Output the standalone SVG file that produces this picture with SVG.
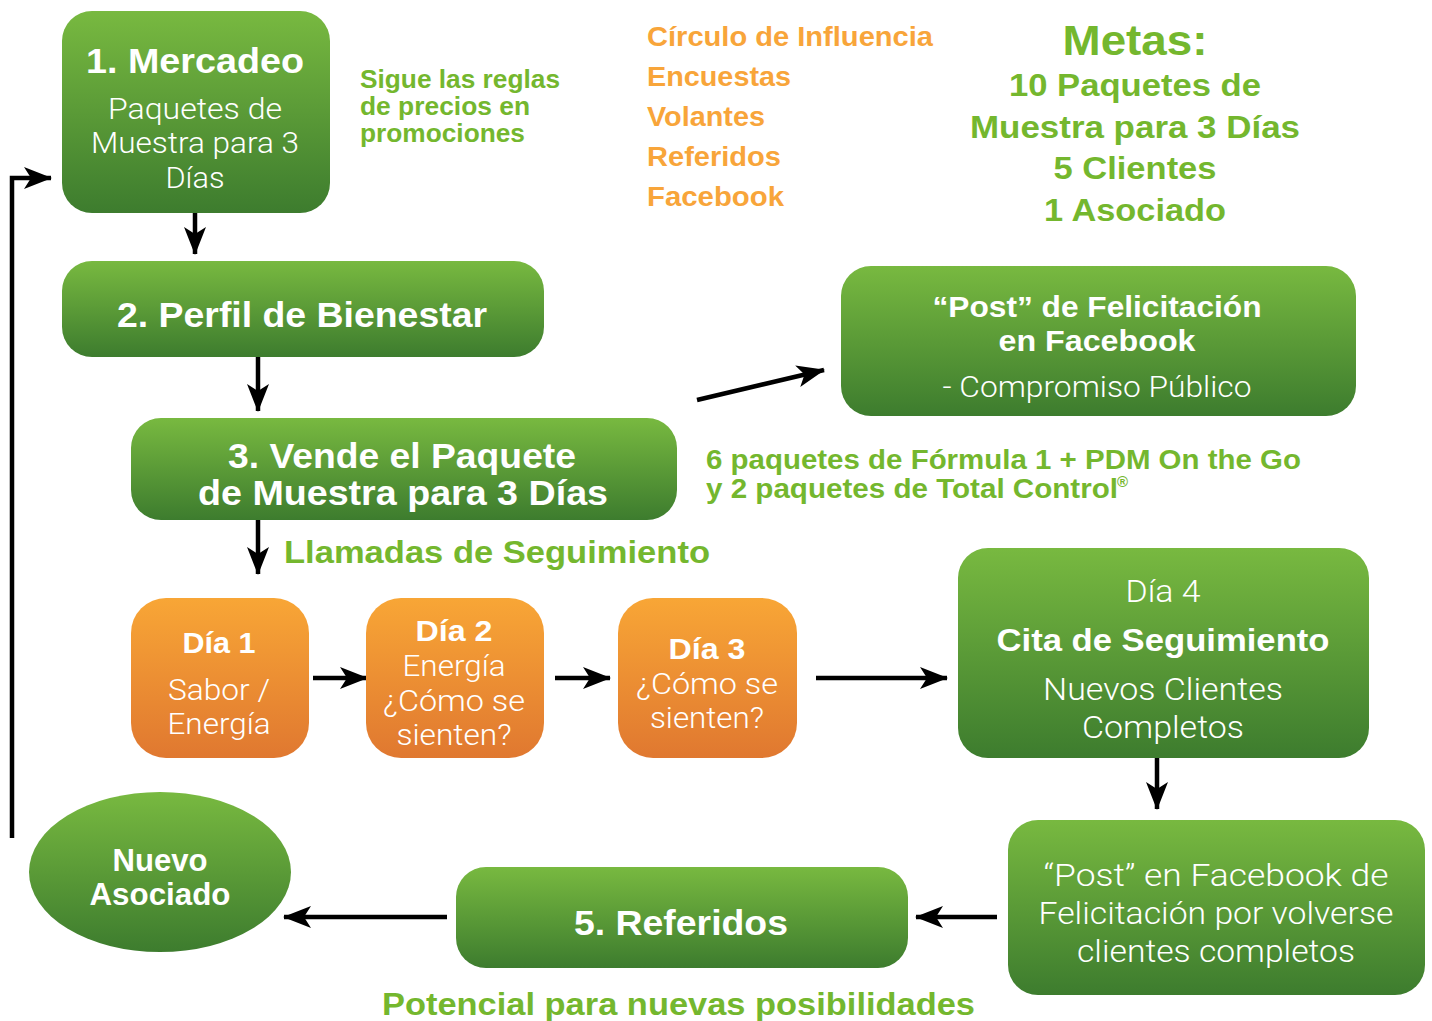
<svg xmlns="http://www.w3.org/2000/svg" width="1432" height="1021" viewBox="0 0 1432 1021">
<defs>
<linearGradient id="gg" x1="0" y1="0" x2="0" y2="1">
<stop offset="0" stop-color="#78b940"/>
<stop offset="1" stop-color="#3d7c2e"/>
</linearGradient>
<linearGradient id="og" x1="0" y1="0" x2="0" y2="1">
<stop offset="0" stop-color="#f8a636"/>
<stop offset="1" stop-color="#e07830"/>
</linearGradient>
<marker id="ah" markerUnits="userSpaceOnUse" markerWidth="28" markerHeight="22" refX="27" refY="11" orient="auto" viewBox="0 0 28 22">
<path d="M0,0 L28,11 L0,22 L7,11 z" fill="#000"/>
</marker>
</defs>
<style>
.gn{fill:url(#gg);}
.on{fill:url(#og);}
.b{font-family:"Liberation Sans",Arial,sans-serif;font-weight:bold;fill:#fff;text-anchor:middle;}
.l{font-family:Roboto,"Liberation Sans",sans-serif;font-weight:300;fill:#fff;text-anchor:middle;}
.gt{font-family:"Liberation Sans",Arial,sans-serif;font-weight:bold;fill:#74b72e;}
.ot{font-family:"Liberation Sans",Arial,sans-serif;font-weight:bold;fill:#f8a53a;font-size:27px;}
.c{stroke:#000;stroke-width:4.5;fill:none;marker-end:url(#ah);}
</style>
<rect width="1432" height="1021" fill="#fff"/>

<g id="connectors">
<line class="c" x1="195" y1="213" x2="195" y2="254"/>
<line class="c" x1="258" y1="357" x2="258" y2="411"/>
<line class="c" x1="258" y1="520" x2="258" y2="574"/>
<line class="c" x1="697" y1="400" x2="824" y2="370"/>
<line class="c" x1="313" y1="678" x2="367" y2="678"/>
<line class="c" x1="555" y1="678" x2="610" y2="678"/>
<line class="c" x1="816" y1="678" x2="947" y2="678"/>
<line class="c" x1="1157" y1="758" x2="1157" y2="809"/>
<line class="c" x1="997" y1="917" x2="916" y2="917"/>
<line class="c" x1="447" y1="917" x2="284" y2="917"/>
<path class="c" d="M12,838 V178 H51"/>
</g>

<g id="n1">
<rect class="gn" x="62" y="11" width="268" height="202" rx="30"/>
<text class="b" x="195" y="73" font-size="35" textLength="218" lengthAdjust="spacingAndGlyphs">1. Mercadeo</text>
<text class="l" x="195" y="119" font-size="30" textLength="174" lengthAdjust="spacingAndGlyphs">Paquetes de</text>
<text class="l" x="195" y="153" font-size="30" textLength="208" lengthAdjust="spacingAndGlyphs">Muestra para 3</text>
<text class="l" x="195" y="188" font-size="30" textLength="59" lengthAdjust="spacingAndGlyphs">Días</text>
</g>

<g id="n2">
<rect class="gn" x="62" y="261" width="482" height="96" rx="30"/>
<text class="b" x="302" y="327" font-size="35" textLength="370" lengthAdjust="spacingAndGlyphs">2. Perfil de Bienestar</text>
</g>

<g id="n3">
<rect class="gn" x="131" y="418" width="546" height="102" rx="30"/>
<text class="b" x="402" y="468" font-size="35" textLength="348" lengthAdjust="spacingAndGlyphs">3. Vende el Paquete</text>
<text class="b" x="403" y="505" font-size="35" textLength="410" lengthAdjust="spacingAndGlyphs">de Muestra para 3 Días</text>
</g>

<g id="post1">
<rect class="gn" x="841" y="266" width="515" height="150" rx="30"/>
<text class="b" x="1097" y="317" font-size="30" textLength="329" lengthAdjust="spacingAndGlyphs">“Post” de Felicitación</text>
<text class="b" x="1097" y="351" font-size="30" textLength="197" lengthAdjust="spacingAndGlyphs">en Facebook</text>
<text class="l" x="1097" y="397" font-size="30" textLength="309" lengthAdjust="spacingAndGlyphs">- Compromiso Público</text>
</g>

<g id="d1">
<rect class="on" x="131" y="598" width="178" height="160" rx="35"/>
<text class="b" x="219" y="653" font-size="30" textLength="73" lengthAdjust="spacingAndGlyphs">Día 1</text>
<text class="l" x="219" y="700" font-size="30" textLength="102" lengthAdjust="spacingAndGlyphs">Sabor /</text>
<text class="l" x="219" y="734" font-size="30" textLength="103" lengthAdjust="spacingAndGlyphs">Energía</text>
</g>

<g id="d2">
<rect class="on" x="366" y="598" width="178" height="160" rx="35"/>
<text class="b" x="454" y="641" font-size="30" textLength="77" lengthAdjust="spacingAndGlyphs">Día 2</text>
<text class="l" x="454" y="676" font-size="30" textLength="103" lengthAdjust="spacingAndGlyphs">Energía</text>
<text class="l" x="454" y="711" font-size="30" textLength="142" lengthAdjust="spacingAndGlyphs">¿Cómo se</text>
<text class="l" x="454" y="745" font-size="30" textLength="115" lengthAdjust="spacingAndGlyphs">sienten?</text>
</g>

<g id="d3">
<rect class="on" x="618" y="598" width="179" height="160" rx="35"/>
<text class="b" x="707" y="659" font-size="30" textLength="77" lengthAdjust="spacingAndGlyphs">Día 3</text>
<text class="l" x="707" y="694" font-size="30" textLength="142" lengthAdjust="spacingAndGlyphs">¿Cómo se</text>
<text class="l" x="707" y="728" font-size="30" textLength="114" lengthAdjust="spacingAndGlyphs">sienten?</text>
</g>

<g id="d4">
<rect class="gn" x="958" y="548" width="411" height="210" rx="30"/>
<text class="l" x="1163" y="602" font-size="31" textLength="75" lengthAdjust="spacingAndGlyphs">Día 4</text>
<text class="b" x="1163" y="651" font-size="32" textLength="333" lengthAdjust="spacingAndGlyphs">Cita de Seguimiento</text>
<text class="l" x="1163" y="700" font-size="32" textLength="240" lengthAdjust="spacingAndGlyphs">Nuevos Clientes</text>
<text class="l" x="1163" y="738" font-size="32" textLength="162" lengthAdjust="spacingAndGlyphs">Completos</text>
</g>

<g id="post2">
<rect class="gn" x="1008" y="820" width="417" height="175" rx="30"/>
<text class="l" x="1216" y="886" font-size="32" textLength="345" lengthAdjust="spacingAndGlyphs">“Post” en Facebook de</text>
<text class="l" x="1216" y="924" font-size="32" textLength="355" lengthAdjust="spacingAndGlyphs">Felicitación por volverse</text>
<text class="l" x="1216" y="962" font-size="32" textLength="278" lengthAdjust="spacingAndGlyphs">clientes completos</text>
</g>

<g id="n5">
<rect class="gn" x="456" y="867" width="452" height="101" rx="30"/>
<text class="b" x="681" y="935" font-size="35" textLength="214" lengthAdjust="spacingAndGlyphs">5. Referidos</text>
</g>

<g id="nuevo">
<ellipse class="gn" cx="160" cy="872" rx="131" ry="80"/>
<text class="b" x="160" y="871" font-size="31" textLength="95" lengthAdjust="spacingAndGlyphs">Nuevo</text>
<text class="b" x="160" y="905" font-size="31" textLength="141" lengthAdjust="spacingAndGlyphs">Asociado</text>
</g>

<g id="labels">
<text class="gt" x="360" y="88" font-size="25" textLength="200" lengthAdjust="spacingAndGlyphs">Sigue las reglas</text>
<text class="gt" x="360" y="115" font-size="25" textLength="170" lengthAdjust="spacingAndGlyphs">de precios en</text>
<text class="gt" x="360" y="142" font-size="25" textLength="165" lengthAdjust="spacingAndGlyphs">promociones</text>

<text class="ot" x="647" y="46" textLength="286" lengthAdjust="spacingAndGlyphs">Círculo de Influencia</text>
<text class="ot" x="647" y="86" textLength="144" lengthAdjust="spacingAndGlyphs">Encuestas</text>
<text class="ot" x="647" y="126" textLength="118" lengthAdjust="spacingAndGlyphs">Volantes</text>
<text class="ot" x="647" y="166" textLength="134" lengthAdjust="spacingAndGlyphs">Referidos</text>
<text class="ot" x="647" y="206" textLength="137" lengthAdjust="spacingAndGlyphs">Facebook</text>

<text class="gt" x="1135" y="55" font-size="42" text-anchor="middle" textLength="145" lengthAdjust="spacingAndGlyphs">Metas:</text>
<text class="gt" x="1135" y="96" font-size="32" text-anchor="middle" textLength="252" lengthAdjust="spacingAndGlyphs">10 Paquetes de</text>
<text class="gt" x="1135" y="138" font-size="32" text-anchor="middle" textLength="330" lengthAdjust="spacingAndGlyphs">Muestra para 3 Días</text>
<text class="gt" x="1135" y="179" font-size="32" text-anchor="middle" textLength="163" lengthAdjust="spacingAndGlyphs">5 Clientes</text>
<text class="gt" x="1135" y="221" font-size="32" text-anchor="middle" textLength="182" lengthAdjust="spacingAndGlyphs">1 Asociado</text>

<text class="gt" x="706" y="469" font-size="27" textLength="595" lengthAdjust="spacingAndGlyphs">6 paquetes de Fórmula 1 + PDM On the Go</text>
<text class="gt" x="706" y="498" font-size="27" textLength="412" lengthAdjust="spacingAndGlyphs">y 2 paquetes de Total Control</text>
<text class="gt" x="1117" y="487" font-size="15">®</text>

<text class="gt" x="284" y="563" font-size="32" textLength="426" lengthAdjust="spacingAndGlyphs">Llamadas de Seguimiento</text>
<text class="gt" x="382" y="1015" font-size="32" textLength="593" lengthAdjust="spacingAndGlyphs">Potencial para nuevas posibilidades</text>
</g>
</svg>
